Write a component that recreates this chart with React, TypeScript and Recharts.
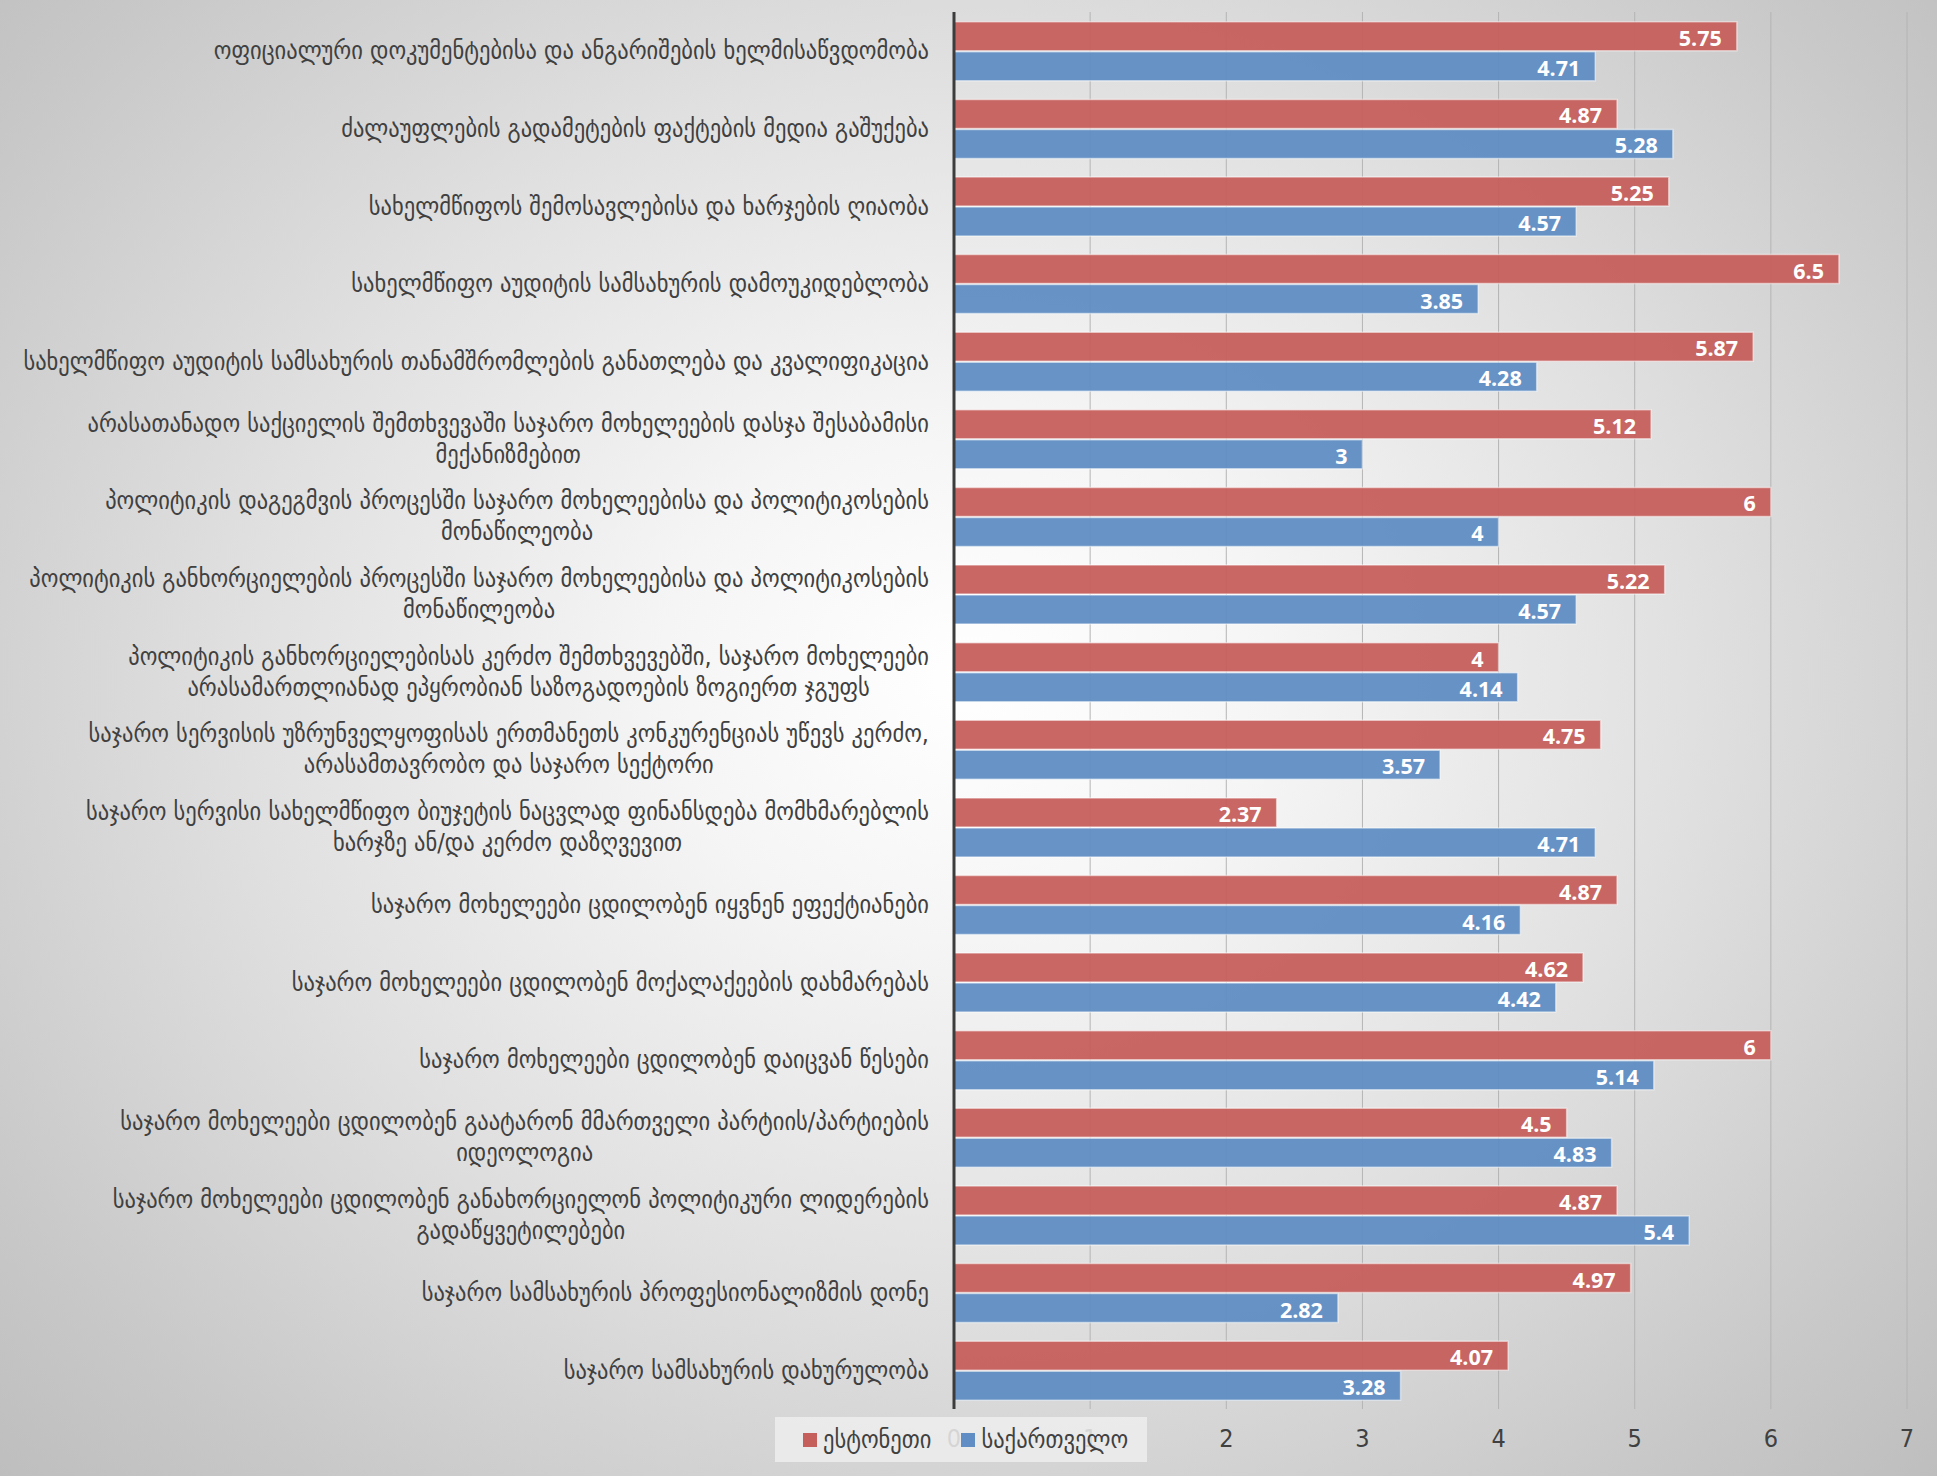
import React from 'react';
import { BarChart, Bar, XAxis, YAxis, CartesianGrid, Legend, LabelList } from 'recharts';

const categories: string[] = [
  'ოფიციალური დოკუმენტებისა და ანგარიშების ხელმისაწვდომობა',
  'ძალაუფლების გადამეტების ფაქტების მედია გაშუქება',
  'სახელმწიფოს შემოსავლებისა და ხარჯების ღიაობა',
  'სახელმწიფო აუდიტის სამსახურის დამოუკიდებლობა',
  'სახელმწიფო აუდიტის სამსახურის თანამშრომლების განათლება და კვალიფიკაცია',
  'არასათანადო საქციელის შემთხვევაში საჯარო მოხელეების დასჯა შესაბამისი\nმექანიზმებით',
  'პოლიტიკის დაგეგმვის პროცესში საჯარო მოხელეებისა და პოლიტიკოსების\nმონაწილეობა',
  'პოლიტიკის განხორციელების პროცესში საჯარო მოხელეებისა და პოლიტიკოსების\nმონაწილეობა',
  'პოლიტიკის განხორციელებისას კერძო შემთხვევებში, საჯარო მოხელეები\nარასამართლიანად ეპყრობიან საზოგადოების ზოგიერთ ჯგუფს',
  'საჯარო სერვისის უზრუნველყოფისას ერთმანეთს კონკურენციას უწევს კერძო,\nარასამთავრობო და საჯარო სექტორი',
  'საჯარო სერვისი სახელმწიფო ბიუჯეტის ნაცვლად ფინანსდება მომხმარებლის\nხარჯზე ან/და კერძო დაზღვევით',
  'საჯარო მოხელეები ცდილობენ იყვნენ ეფექტიანები',
  'საჯარო მოხელეები ცდილობენ მოქალაქეების დახმარებას',
  'საჯარო მოხელეები ცდილობენ დაიცვან წესები',
  'საჯარო მოხელეები ცდილობენ გაატარონ მმართველი პარტიის/პარტიების\nიდეოლოგია',
  'საჯარო მოხელეები ცდილობენ განახორციელონ პოლიტიკური ლიდერების\nგადაწყვეტილებები',
  'საჯარო სამსახურის პროფესიონალიზმის დონე',
  'საჯარო სამსახურის დახურულობა',
];

const estoniaValues: number[] = [5.75, 4.87, 5.25, 6.5, 5.87, 5.12, 6, 5.22, 4, 4.75, 2.37, 4.87, 4.62, 6, 4.5, 4.87, 4.97, 4.07];
const georgiaValues: number[] = [4.71, 5.28, 4.57, 3.85, 4.28, 3, 4, 4.57, 4.14, 3.57, 4.71, 4.16, 4.42, 5.14, 4.83, 5.4, 2.82, 3.28];
const xTicks: number[] = [0, 1, 2, 3, 4, 5, 6, 7];
const seriesNames: string[] = ['ესტონეთი', 'საქართველო'];

const data = categories.map((name, i) => ({ name, est: estoniaValues[i], geo: georgiaValues[i] }));

const RED = '#C55F5C';
const BLUE = '#5F8DC4';
const TEXT = '#404040';
const LABEL_FONT_FAMILY = '"DejaVu Sans Condensed", "DejaVu Sans", sans-serif';
const LABEL_FONT_SIZE = 25;

let measureCanvas: HTMLCanvasElement | null = null;
function measure(text: string, font: string): number {
  if (!measureCanvas) measureCanvas = document.createElement('canvas');
  const ctx = measureCanvas.getContext('2d');
  if (!ctx) return text.length * 12;
  ctx.font = font;
  return ctx.measureText(text).width;
}

const CategoryTick = (props: any) => {
  const { x, y, payload } = props;
  const lines = String(payload.value).split('\n');
  const font = `${LABEL_FONT_SIZE}px ${LABEL_FONT_FAMILY}`;
  const widths = lines.map((l) => measure(l, font));
  const maxW = Math.max(...widths);
  const cx = x - maxW / 2;
  const lh = 31;
  const startY = y - ((lines.length - 1) * lh) / 2;
  return (
    <g>
      {lines.map((l, i) => (
        <text
          key={i}
          x={cx}
          y={startY + i * lh}
          textAnchor="middle"
          dominantBaseline="central"
          fill={TEXT}
          style={{ fontFamily: LABEL_FONT_FAMILY, fontSize: LABEL_FONT_SIZE }}
        >
          {l}
        </text>
      ))}
    </g>
  );
};

const ValueLabel = (props: any) => {
  const { x, y, width, height, value } = props;
  return (
    <text
      x={x + width - 15}
      y={y + height / 2 + 1}
      textAnchor="end"
      dominantBaseline="central"
      fill="#ffffff"
      style={{ fontFamily: '"Open Sans", sans-serif', fontWeight: 700, fontSize: 21.5 }}
    >
      {value}
    </text>
  );
};

const LegendContent = () => (
  <div
    style={{
      width: '100%',
      height: '100%',
      background: 'rgba(238,238,238,0.86)',
      display: 'flex',
      alignItems: 'center',
      fontFamily: LABEL_FONT_FAMILY,
      fontSize: LABEL_FONT_SIZE,
      color: TEXT,
      boxSizing: 'border-box',
      paddingLeft: 28,
    }}
  >
    <span style={{ display: 'inline-block', width: 14, height: 14, background: RED, marginRight: 6 }} />
    <span>{seriesNames[0]}</span>
    <span style={{ display: 'inline-block', width: 14, height: 14, background: BLUE, marginLeft: 30, marginRight: 6 }} />
    <span>{seriesNames[1]}</span>
  </div>
);

export default function App() {
  return (
    <div
      style={{
        position: 'absolute',
        left: 0,
        top: 0,
        width: 1937,
        height: 1476,
        background:
          'radial-gradient(ellipse 72% 80% at 50% 46%, #ffffff 0%, #f5f5f5 22%, #e0e0e0 52%, #c8c8c8 82%, #bcbcbc 100%)',
      }}
    >
      <BarChart
        width={1937}
        height={1476}
        data={data}
        layout="vertical"
        margin={{ top: 12, right: 30, bottom: 0, left: 0 }}
        barCategoryGap="12.6%"
        barGap={1}
      >
        <CartesianGrid horizontal={false} vertical={true} stroke="#b4b4b4" strokeWidth={1} />
        <XAxis
          type="number"
          domain={[0, 7]}
          ticks={xTicks}
          axisLine={false}
          tickLine={false}
          tickSize={0}
          tickMargin={20}
          height={67}
          tick={{ fill: TEXT, fontSize: 25, fontFamily: '"Liberation Sans Narrow", "DejaVu Sans Condensed", sans-serif' }}
        />
        <YAxis
          type="category"
          dataKey="name"
          width={954}
          axisLine={{ stroke: '#3c3c3c', strokeWidth: 3 }}
          tickLine={false}
          tickSize={0}
          tickMargin={25}
          interval={0}
          tick={<CategoryTick />}
        />
        <Legend
          layout="horizontal"
          verticalAlign="middle"
          align="center"
          content={<LegendContent />}
          wrapperStyle={{ position: 'absolute', left: 775, top: 1417, width: 372, height: 45 }}
        />
        <Bar dataKey="est" name={seriesNames[0]} fill={RED} fillOpacity={0.95} stroke="rgba(255,255,255,0.5)" strokeWidth={1.5} isAnimationActive={false}>
          <LabelList dataKey="est" content={<ValueLabel />} />
        </Bar>
        <Bar dataKey="geo" name={seriesNames[1]} fill={BLUE} fillOpacity={0.95} stroke="rgba(255,255,255,0.5)" strokeWidth={1.5} isAnimationActive={false}>
          <LabelList dataKey="geo" content={<ValueLabel />} />
        </Bar>
      </BarChart>
    </div>
  );
}
